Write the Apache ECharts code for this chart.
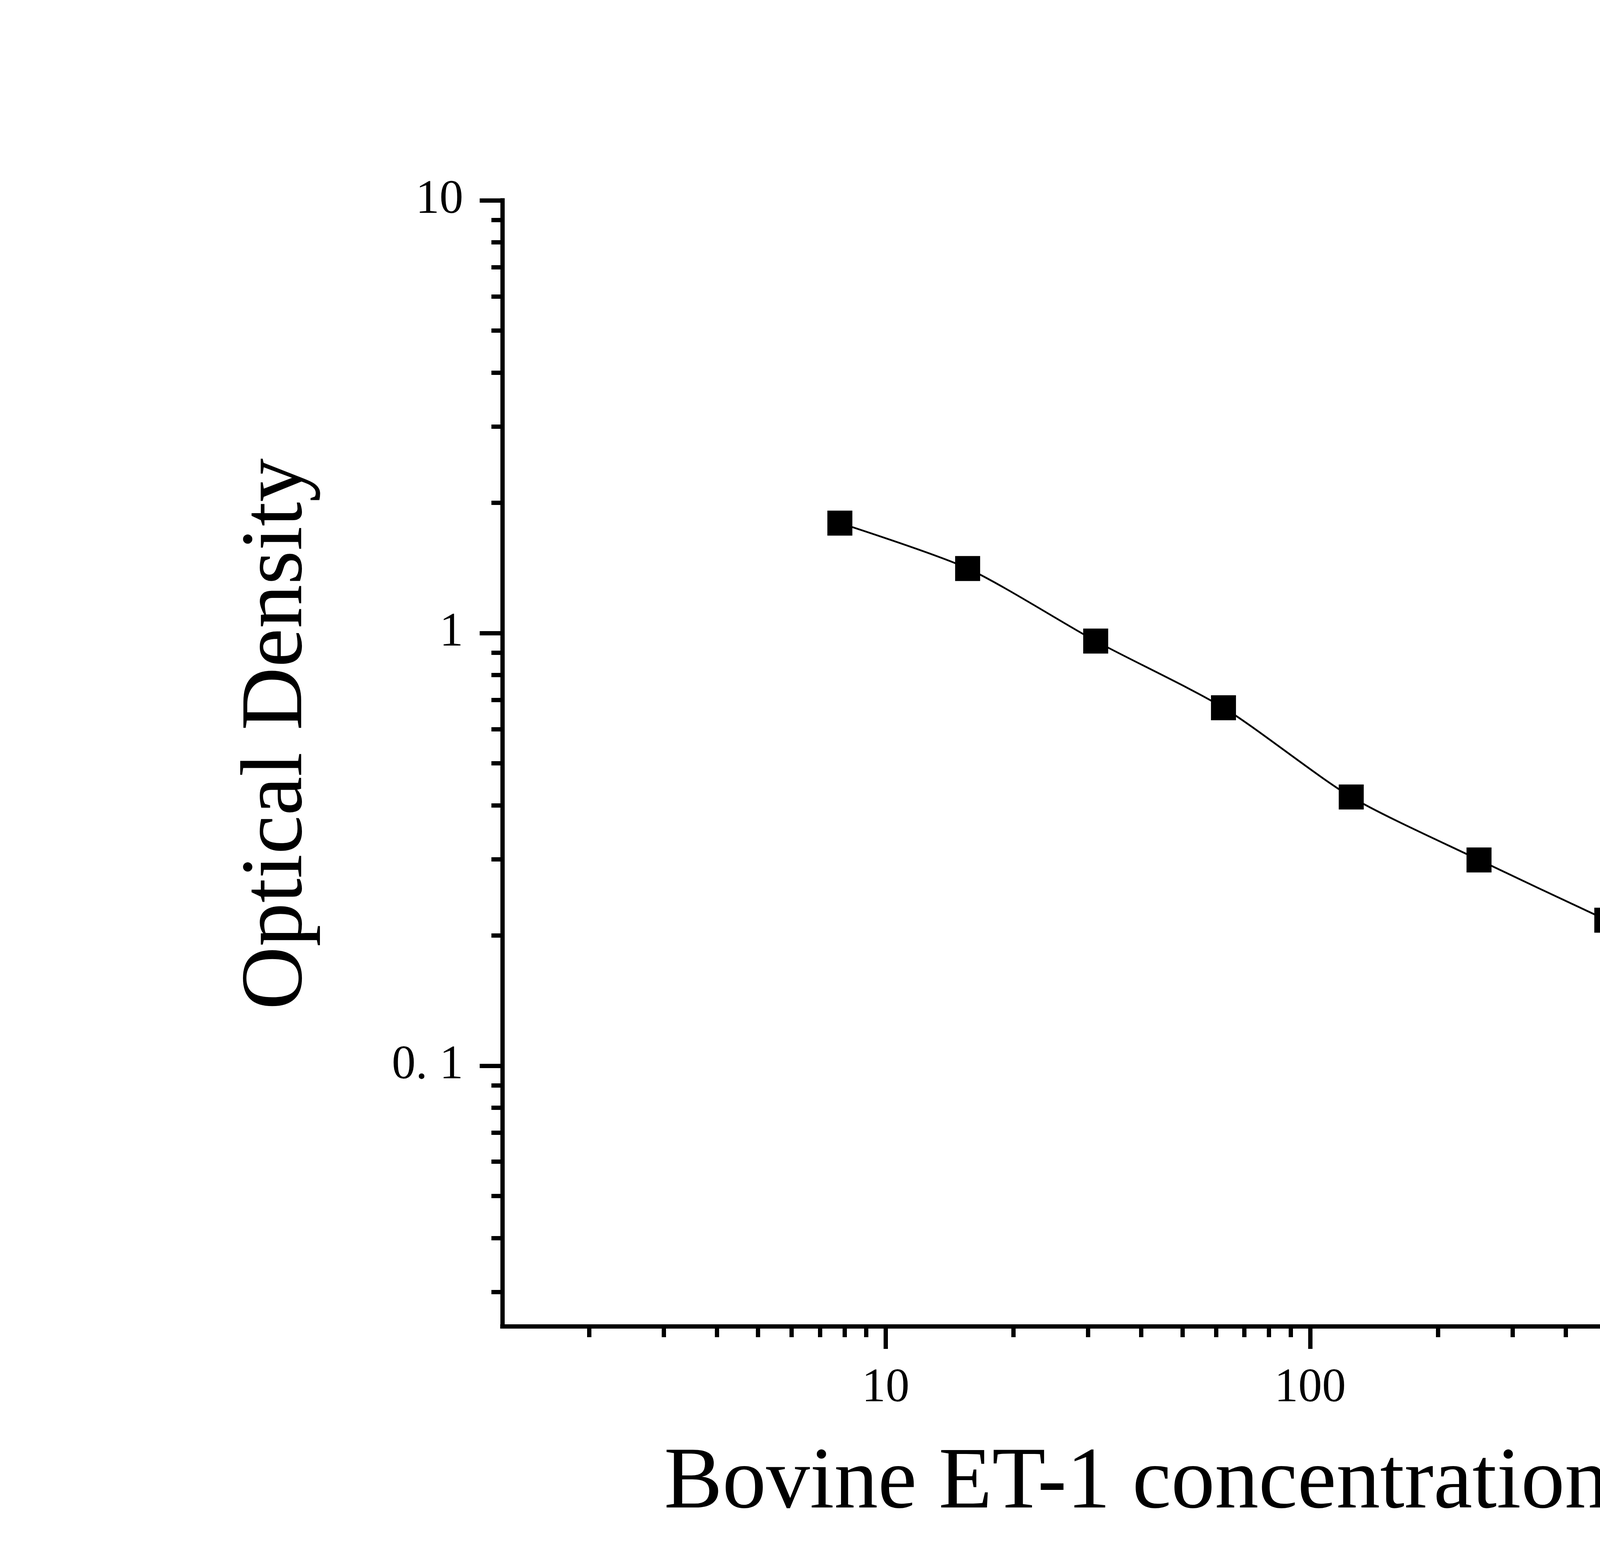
<!DOCTYPE html>
<html>
<head>
<meta charset="utf-8">
<title>Bovine ET-1 standard curve</title>
<script src="https://cdn.jsdelivr.net/npm/echarts@6/dist/echarts.min.js"></script>
<style>
  html, body { margin: 0; padding: 0; background: #ffffff; }
  #chart { width: 5749px; height: 4015px; }
</style>
</head>
<body>
<div id="chart"></div>
<script>
// standard curve points (pg/mL, OD)
var concentrations = [7.8, 15.6, 31.25, 62.5, 125, 250, 500];
var odValues = [1.795, 1.41, 0.958, 0.672, 0.418, 0.299, 0.217];

// axis ranges
var xRange = [1.25, 5000];
var yRange = [0.025, 10];

// tick marks and labels
var xMajorTicks = [10, 100, 1000];
var xTickLabels = ['10', '100', '1000'];
var xMinorTicks = [2, 3, 4, 5, 6, 7, 8, 9, 20, 30, 40, 50, 60, 70, 80, 90,
    200, 300, 400, 500, 600, 700, 800, 900, 2000, 3000, 4000, 5000];
var yMajorTicks = [0.1, 1, 10];
var yTickLabels = ['0. 1', '1', '10'];
var yMinorTicks = [0.03, 0.04, 0.05, 0.06, 0.07, 0.08, 0.09,
    0.2, 0.3, 0.4, 0.5, 0.6, 0.7, 0.8, 0.9, 2, 3, 4, 5, 6, 7, 8, 9];

var FONT = 'Liberation Serif';

function lg(v) {
    return Math.log10(v);
}

// label text for a tick that sits at log10(value)
function tickLabel(ticks, labels) {
    return function (v) {
        for (var i = 0; i < ticks.length; i++) {
            if (Math.abs(lg(ticks[i]) - v) < 1e-9)
                return labels[i];
        }
        return '';
    };
}

var seriesData = concentrations.map(function (c, i) {
    return [lg(c), lg(odValues[i])];
});

var chart = echarts.init(document.getElementById('chart'));

var option = {
    backgroundColor: '#ffffff',
    animation: false,
    grid: {
        left: 1286,
        right: 549,
        top: 513,
        bottom: 619,
        containLabel: false
    },
    xAxis: [{
        type: 'value',
        position: 'bottom',
        min: lg(xRange[0]),
        max: lg(xRange[1]),
        name: 'Bovine ET-1 concentration (pg/mL)',
        nameLocation: 'middle',
        nameGap: 293,
        nameTextStyle: {
            fontFamily: FONT,
            fontSize: 224,
            color: '#000000',
            padding: [0, 0, 0, 134]
        },
        axisLine: {
            show: true,
            onZero: false,
            lineStyle: { color: '#000000', width: 11, cap: 'square' }
        },
        axisTick: {
            show: true,
            inside: false,
            length: 58,
            lineStyle: { color: '#000000', width: 11 },
            customValues: xMajorTicks.map(lg)
        },
        axisLabel: {
            show: true,
            margin: 99,
            fontFamily: FONT,
            fontSize: 122,
            color: '#000000',
            customValues: xMajorTicks.map(lg),
            formatter: tickLabel(xMajorTicks, xTickLabels)
        },
        splitLine: { show: false }
    }, {
        // minor ticks only
        type: 'value',
        position: 'bottom',
        min: lg(xRange[0]),
        max: lg(xRange[1]),
        axisLine: { show: false, onZero: false },
        axisTick: {
            show: true,
            inside: false,
            length: 28,
            lineStyle: { color: '#000000', width: 11 },
            customValues: xMinorTicks.map(lg)
        },
        axisLabel: { show: false },
        splitLine: { show: false }
    }],
    yAxis: [{
        type: 'value',
        position: 'left',
        min: lg(yRange[0]),
        max: lg(yRange[1]),
        name: 'Optical Density',
        nameLocation: 'middle',
        nameGap: 462,
        nameTextStyle: {
            fontFamily: FONT,
            fontSize: 224,
            color: '#000000',
            padding: [0, 0, 0, 150]
        },
        axisLine: {
            show: true,
            onZero: false,
            lineStyle: { color: '#000000', width: 11, cap: 'square' }
        },
        axisTick: {
            show: true,
            inside: false,
            length: 58,
            lineStyle: { color: '#000000', width: 11 },
            customValues: yMajorTicks.map(lg)
        },
        axisLabel: {
            show: true,
            margin: 100,
            fontFamily: FONT,
            fontSize: 122,
            color: '#000000',
            customValues: yMajorTicks.map(lg),
            formatter: tickLabel(yMajorTicks, yTickLabels)
        },
        splitLine: { show: false }
    }, {
        // minor ticks only
        type: 'value',
        position: 'left',
        min: lg(yRange[0]),
        max: lg(yRange[1]),
        axisLine: { show: false, onZero: false },
        axisTick: {
            show: true,
            inside: false,
            length: 28,
            lineStyle: { color: '#000000', width: 11 },
            customValues: yMinorTicks.map(lg)
        },
        axisLabel: { show: false },
        splitLine: { show: false }
    }],
    series: [{
        type: 'line',
        xAxisIndex: 0,
        yAxisIndex: 0,
        data: seriesData,
        smooth: 0.25,
        symbol: 'rect',
        symbolSize: 64,
        showSymbol: true,
        itemStyle: { color: '#000000' },
        lineStyle: { color: '#000000', width: 4.5 },
        emphasis: { disabled: true }
    }]
};

chart.setOption(option);
</script>
</body>
</html>
